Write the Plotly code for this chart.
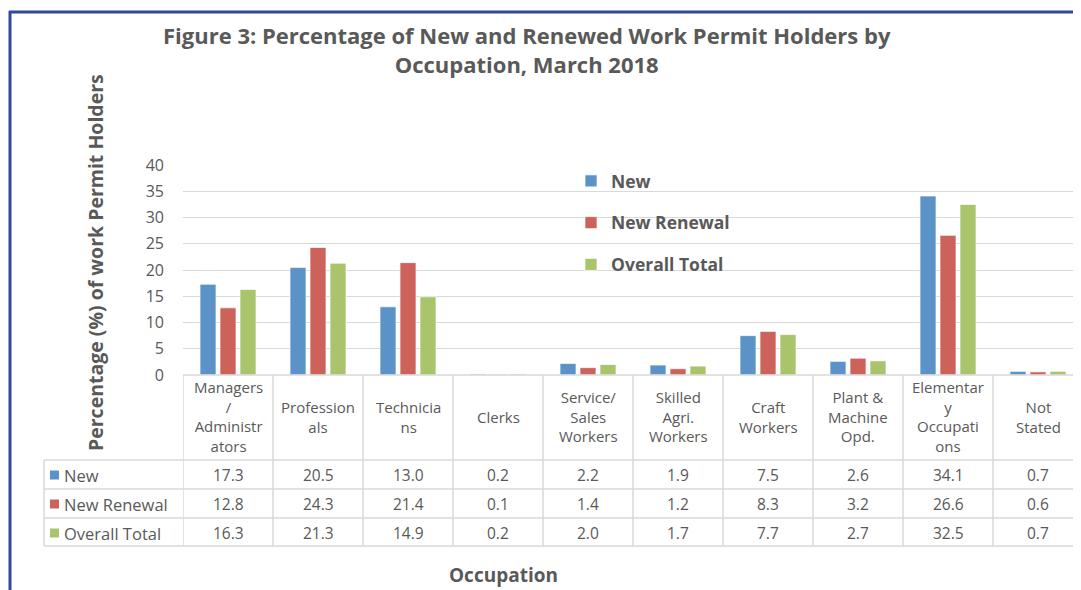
import plotly.graph_objects as go

# page body has an 8px margin; the figure fills the rest of the 1081x590 window
OFF = 8
W, H = 1081 - OFF, 590 - OFF

categories = ["Managers/Administrators", "Professionals", "Technicians", "Clerks",
              "Service/Sales Workers", "Skilled Agri. Workers", "Craft Workers",
              "Plant & Machine Opd.", "Elementary Occupations", "Not Stated"]
header_labels = ["Managers<br>/<br>Administr<br>ators", "Profession<br>als", "Technicia<br>ns",
                 "Clerks", "Service/<br>Sales<br>Workers", "Skilled<br>Agri.<br>Workers",
                 "Craft<br>Workers", "Plant &<br>Machine<br>Opd.", "Elementar<br>y<br>Occupati<br>ons",
                 "Not<br>Stated"]
series_names = ["New", "New Renewal", "Overall Total"]
new_vals = [17.3, 20.5, 13.0, 0.2, 2.2, 1.9, 7.5, 2.6, 34.1, 0.7]
renewal_vals = [12.8, 24.3, 21.4, 0.1, 1.4, 1.2, 8.3, 3.2, 26.6, 0.6]
total_vals = [16.3, 21.3, 14.9, 0.2, 2.0, 1.7, 7.7, 2.7, 32.5, 0.7]
colors = ["#5B93C9", "#CD625B", "#A9C46A"]

FONT = "Open Sans"
TXT = "#595959"
GRID = "#D9D9D9"


def px(x):
    return (x - OFF) / W


def py(y):
    return 1 - (y - OFF) / H


fig = go.Figure()
for name, vals, c in zip(series_names, [new_vals, renewal_vals, total_vals], colors):
    fig.add_trace(go.Bar(
        x=categories, y=vals, name=name, legendgroup=name,
        marker=dict(color=c, line=dict(color="rgba(255,255,255,0.7)", width=1)),
    ))

# plot area (window pixels): x 183..1083, y 165..375
x0 = 183
fig.update_layout(
    width=W, height=H,
    margin=dict(l=0, r=0, t=0, b=0, pad=0, autoexpand=False),
    paper_bgcolor="white", plot_bgcolor="white",
    barmode="group", bargap=1/3, bargroupgap=0.2,
    font=dict(family=FONT, color=TXT),
    xaxis=dict(domain=[px(x0), 1], range=[-0.5, -0.5 + (1081 - x0) / 90],
               showticklabels=False, showgrid=False, zeroline=False, showline=False,
               automargin=False, fixedrange=True),
    yaxis=dict(domain=[py(375), py(165)], range=[0, 40], dtick=5,
               showgrid=True, gridcolor=GRID, gridwidth=1, zeroline=False,
               showline=False, ticklabelstandoff=18, automargin=False,
               tickfont=dict(size=16, color=TXT, family=FONT)),
    legend=dict(x=px(571), y=py(163), xanchor="left", yanchor="top",
                font=dict(size=17.5, color=TXT, family=FONT, weight="bold"),
                tracegroupgap=16, bgcolor="rgba(0,0,0,0)"),
    showlegend=True,
)

shapes = []
# frame
shapes.append(dict(type="line", xref="paper", yref="paper", x0=px(9), x1=1, y0=py(12), y1=py(12),
                   line=dict(color="#2E4B9B", width=3)))
shapes.append(dict(type="line", xref="paper", yref="paper", x0=px(10), x1=px(10), y0=py(11), y1=0,
                   line=dict(color="#2E4B9B", width=3)))
# table lines
shapes.append(dict(type="line", xref="paper", yref="paper", x0=px(183), x1=1, y0=py(375), y1=py(375),
                   line=dict(color=GRID, width=1.5)))
for yy in [460, 489, 518, 546]:
    shapes.append(dict(type="line", xref="paper", yref="paper", x0=px(44), x1=1, y0=py(yy), y1=py(yy),
                       line=dict(color=GRID, width=1.5)))
shapes.append(dict(type="line", xref="paper", yref="paper", x0=px(44), x1=px(44), y0=py(460), y1=py(546),
                   line=dict(color=GRID, width=1.5)))
for i in range(len(categories) + 1):
    xv = i - 0.5
    shapes.append(dict(type="line", xref="x", yref="paper", x0=xv, x1=xv, y0=py(375), y1=py(546),
                       line=dict(color=GRID, width=1.5)))
# table row keys
row_y = [475, 504, 533]
for c, yy in zip(colors, row_y):
    shapes.append(dict(type="rect", xref="paper", yref="paper", x0=px(50), x1=px(59),
                       y0=py(yy + 4.5), y1=py(yy - 4.5), fillcolor=c, line=dict(width=0)))

annotations = []
annotations.append(dict(text="Figure 3: Percentage of New and Renewed Work Permit Holders by<br>Occupation, March 2018",
                        xref="paper", yref="paper", x=px(527), y=py(50), xanchor="center", yanchor="middle",
                        showarrow=False, font=dict(size=22, color=TXT, family=FONT, weight="bold")))
annotations.append(dict(text="Percentage (%) of work Permit Holders", textangle=-90,
                        xref="paper", yref="paper", x=px(95), y=py(263), xanchor="center", yanchor="middle",
                        showarrow=False, font=dict(size=19.5, color=TXT, family=FONT, weight="bold")))
annotations.append(dict(text="Occupation", xref="paper", yref="paper", x=px(503), y=py(575),
                        xanchor="center", yanchor="middle", showarrow=False,
                        font=dict(size=19, color=TXT, family=FONT, weight="bold")))
for cat, lab in zip(categories, header_labels):
    annotations.append(dict(text=lab, xref="x", yref="paper", x=cat, y=py(417), xanchor="center",
                            yanchor="middle", showarrow=False,
                            font=dict(size=15, color=TXT, family=FONT)))
for name, vals, yy in zip(series_names, [new_vals, renewal_vals, total_vals], row_y):
    annotations.append(dict(text=name, xref="paper", yref="paper", x=px(62), y=py(yy), xanchor="left",
                            yanchor="middle", showarrow=False, font=dict(size=16.5, color=TXT, family=FONT)))
    for cat, v in zip(categories, vals):
        annotations.append(dict(text=f"{v:.1f}", xref="x", yref="paper", x=cat, y=py(yy),
                                xanchor="center", yanchor="middle", showarrow=False,
                                font=dict(size=15.5, color=TXT, family=FONT)))

fig.update_layout(shapes=shapes, annotations=annotations)
fig.write_html("out.html")
